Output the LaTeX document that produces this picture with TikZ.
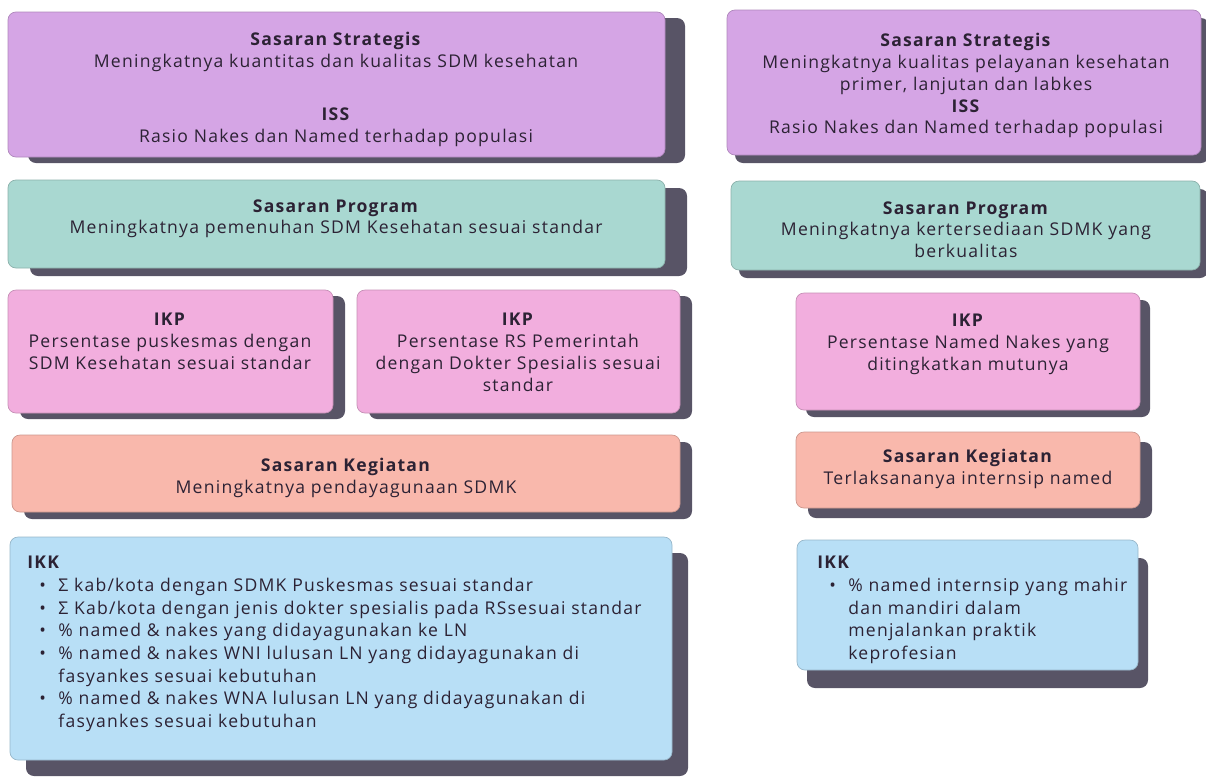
\documentclass[tikz,border=0pt]{standalone}
\usepackage{fontspec}
\setmainfont{Open Sans}[LetterSpace=7]
\usetikzlibrary{shadows,fit}

\definecolor{lilac}{RGB}{213,165,229}
\definecolor{teal}{RGB}{169,216,209}
\definecolor{pinkikp}{RGB}{242,174,222}
\definecolor{salmon}{RGB}{249,184,172}
\definecolor{skyblue}{RGB}{184,223,246}
\definecolor{shadowgrey}{RGB}{88,84,102}
\definecolor{ink}{RGB}{44,34,52}

\newcommand{\ikkdot}{\makebox[31\unitlength][l]{\hspace*{12\unitlength}\textbullet}}
\newcommand{\ikkhang}{\hspace*{31\unitlength}}

\tikzset{
  panel/.style={rounded corners=0.16cm, fill=#1, draw=#1!82!black, line width=0.4pt, inner sep=0pt},
  shade/.style 2 args={general shadow={fill=shadowgrey, shadow xshift=#1*0.02cm, shadow yshift=-#2*0.02cm}},
  txt/.style={align=center, text=ink, inner sep=0pt, font=\fontsize{10}{12.4}\selectfont},
  ikk/.style={align=left, text=ink, inner sep=0pt, anchor=north west, font=\fontsize{10}{12.9}\selectfont},
}

\begin{document}
\setlength{\unitlength}{0.02cm}
\begin{tikzpicture}[x=0.02cm, y=-0.02cm]
  \useasboundingbox (0,0) rectangle (1206,778);

  % left column
  \node[panel=lilac, shade={20}{6}, fit={(8,12) (665,157)}] (stratL) {};
  \node[txt, anchor=north] (stratLt) at (336,32) {\textbf{Sasaran Strategis}\\Meningkatnya kuantitas dan kualitas SDM kesehatan\\[0.62cm]\textbf{ISS}\\Rasio Nakes dan Named terhadap populasi};

  \node[panel=teal, shade={22}{8}, fit={(8,180) (665,268)}] (progL) {};
  \node[txt, anchor=north] (progLt) at (336,199) {\textbf{Sasaran Program}\\Meningkatnya pemenuhan SDM Kesehatan sesuai standar};

  \node[panel=pinkikp, shade={12}{6}, fit={(8,290) (333,413)}] (ikpA) {};
  \node[txt, anchor=north] (ikpAt) at (170,313) {\textbf{IKP}\\Persentase puskesmas dengan\\SDM Kesehatan sesuai standar};

  \node[panel=pinkikp, shade={12}{6}, fit={(357,290) (680,413)}] (ikpB) {};
  \node[txt, anchor=north] (ikpBt) at (518,313) {\textbf{IKP}\\Persentase RS Pemerintah\\dengan Dokter Spesialis sesuai\\standar};

  \node[panel=salmon, shade={12}{7}, fit={(12,435) (680,512)}] (kegL) {};
  \node[txt, anchor=north] (kegLt) at (346,458) {\textbf{Sasaran Kegiatan}\\Meningkatnya pendayagunaan SDMK};

  \node[panel=skyblue, shade={16}{16}, fit={(10,537) (672,760)}] (ikkL) {};
  \node[ikk] (ikkLt) at (27,556) {\textbf{IKK}\\
    \ikkdot Σ kab/kota dengan SDMK Puskesmas sesuai standar\\
    \ikkdot Σ Kab/kota dengan jenis dokter spesialis pada RSsesuai standar\\
    \ikkdot \% named \& nakes yang didayagunakan ke LN\\
    \ikkdot \% named \& nakes WNI lulusan LN yang didayagunakan di\\
    \ikkhang fasyankes sesuai kebutuhan\\
    \ikkdot \% named \& nakes WNA lulusan LN yang didayagunakan di\\
    \ikkhang fasyankes sesuai kebutuhan};

  % right column
  \node[panel=lilac, shade={8}{8}, fit={(727,10) (1201,155)}] (stratR) {};
  \node[txt, anchor=north] (stratRt) at (966,33) {\textbf{Sasaran Strategis}\\Meningkatnya kualitas pelayanan kesehatan\\primer, lanjutan dan labkes\\\textbf{ISS}\\Rasio Nakes dan Named terhadap populasi};

  \node[panel=teal, shade={8}{8}, fit={(731,181) (1200,270)}] (progR) {};
  \node[txt, anchor=north] (progRt) at (966,201) {\textbf{Sasaran Program}\\Meningkatnya kertersediaan SDMK yang\\berkualitas};

  \node[panel=pinkikp, shade={10}{7}, fit={(796,293) (1140,410)}] (ikpR) {};
  \node[txt, anchor=north] (ikpRt) at (968,314) {\textbf{IKP}\\Persentase Named Nakes yang\\ditingkatkan mutunya};

  \node[panel=salmon, shade={12}{10}, fit={(796,432) (1140,508)}] (kegR) {};
  \node[txt, anchor=north] (kegRt) at (968,449) {\textbf{Sasaran Kegiatan}\\Terlaksananya internsip named};

  \node[panel=skyblue, shade={10}{18}, fit={(797,540) (1138,670)}] (ikkR) {};
  \node[ikk] (ikkRt) at (817,556) {\textbf{IKK}\\
    \ikkdot \% named internsip yang mahir\\
    \ikkhang dan mandiri dalam\\
    \ikkhang menjalankan praktik\\
    \ikkhang keprofesian};
\end{tikzpicture}
\end{document}
